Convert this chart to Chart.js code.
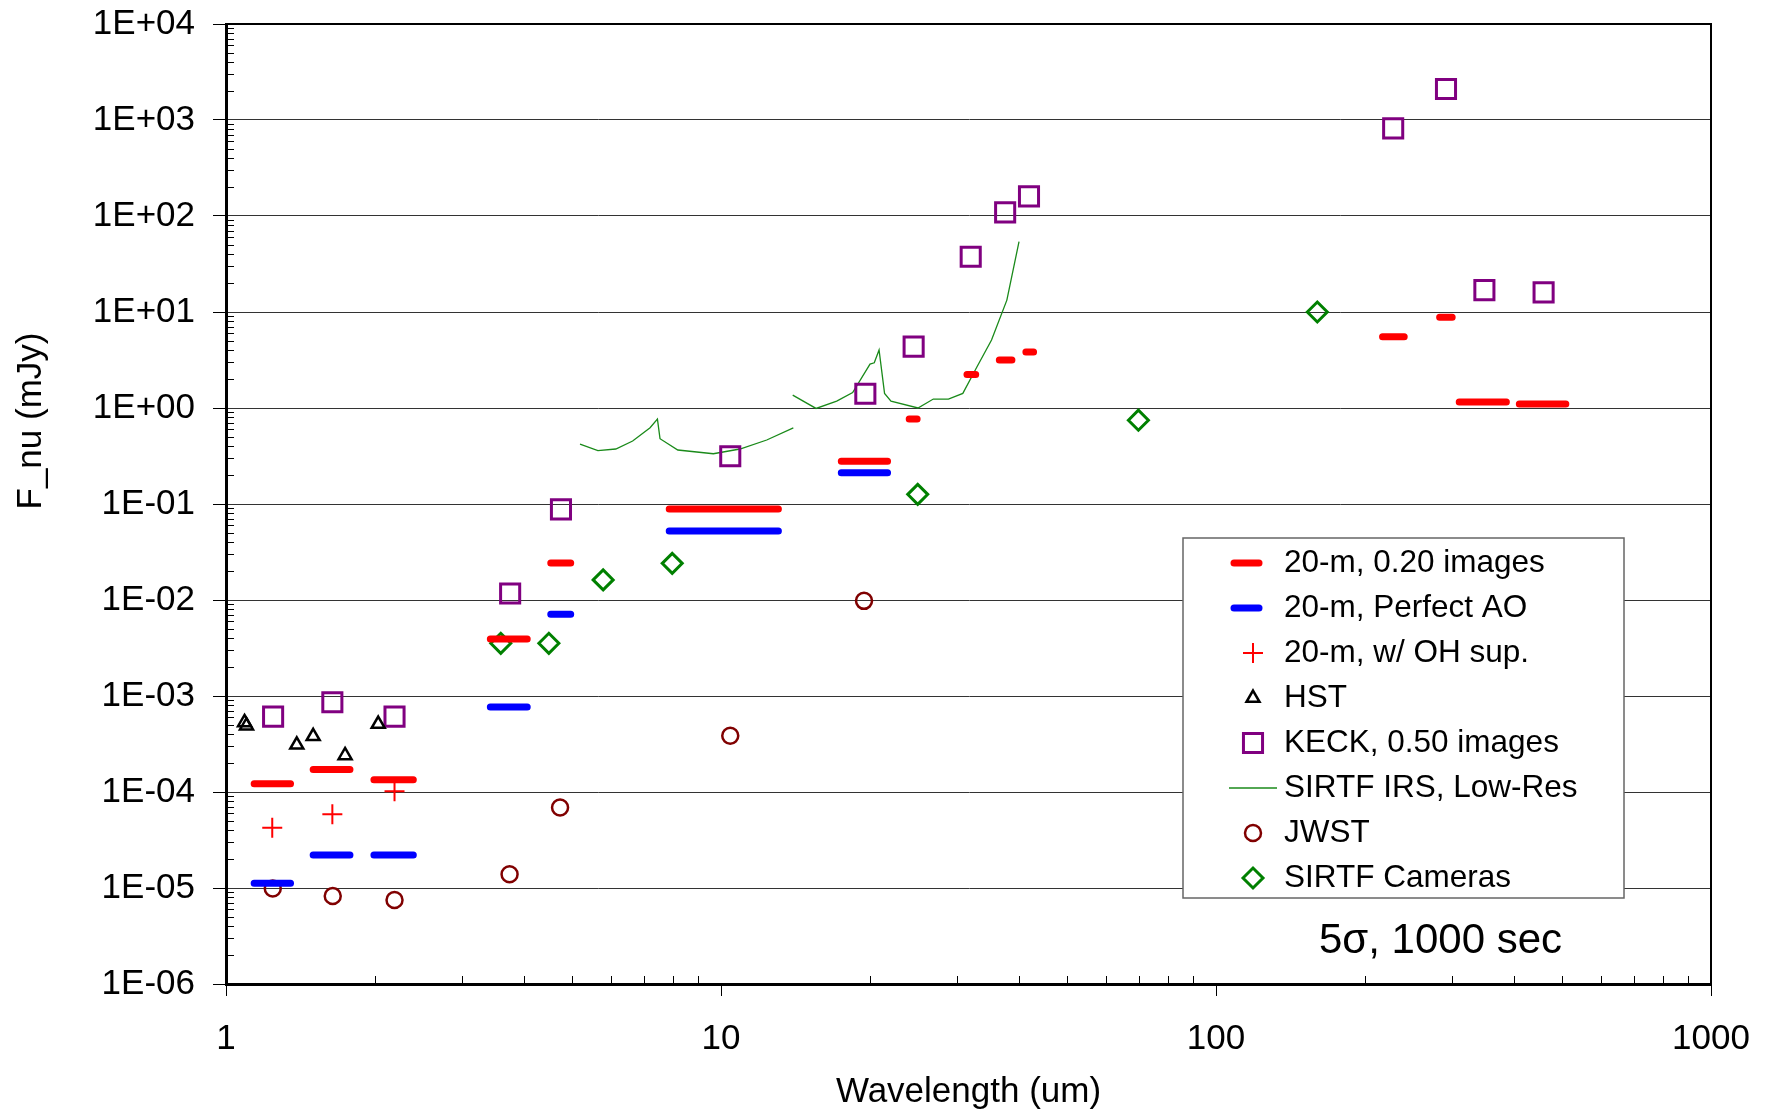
<!DOCTYPE html>
<html>
<head>
<meta charset="utf-8">
<script src="https://cdn.jsdelivr.net/npm/chart.js@4.4.1/dist/chart.umd.min.js"></script>
<style>
  html, body { margin: 0; padding: 0; background: #fff; }
  #wrap { width: 1771px; height: 1111px; }
</style>
</head>
<body>
<div id="wrap"><canvas id="chart"></canvas></div>
<script>
// 20-m telescope bands (um, left and right edge of each bar)
const bandLo = [1.14, 1.50, 1.99, 3.42, 4.53, 7.86, 17.5, 24.0, 31.4, 36.5, 41.3, 217, 283, 310, 410];
const bandHi = [1.35, 1.78, 2.39, 4.06, 4.97, 13.06, 21.7, 24.9, 32.7, 38.7, 42.8, 240, 300, 386, 509];
// 5 sigma, 1000 s limits in mJy
const images020 = [1.22e-4, 1.72e-4, 1.34e-4, 3.92e-3, 0.0243, 0.0888, 0.279, 0.767, 2.24, 3.16, 3.83, 5.53, 8.8, 1.155, 1.10];
const perfectAO = [1.12e-5, 2.21e-5, 2.21e-5, 7.67e-4, 7.1e-3, 0.0523, 0.212]; // first 7 bands only

const ohWave = [1.24, 1.64, 2.19];
const ohSup = [4.25e-5, 5.86e-5, 1.02e-4];

const hstWave = [1.09, 1.10, 1.39, 1.50, 1.74, 2.03];
const hst = [5.3e-4, 4.9e-4, 3.1e-4, 3.8e-4, 2.4e-4, 5.1e-4];

const keckWave = [1.245, 1.64, 2.19, 3.75, 4.75, 10.44, 19.57, 24.5, 31.95, 37.5, 41.9, 228, 291.5, 348.5, 459];
const keck = [6.1e-4, 8.6e-4, 6.1e-4, 0.0117, 0.088, 0.314, 1.41, 4.36, 37.7, 109, 160, 818, 2100, 16.9, 16.0];

const irsWaveShort = [5.19, 5.64, 6.13, 6.63, 7.19, 7.44, 7.53, 8.18, 9.65, 10.92, 12.37, 14.0];
const irsShort = [0.42, 0.359, 0.374, 0.453, 0.624, 0.767, 0.479, 0.365, 0.334, 0.374, 0.464, 0.62];
const irsWaveLong = [13.96, 15.56, 17.13, 18.45, 20.0, 20.4, 20.86, 21.4, 22.05, 25.0, 26.85, 28.8, 30.8, 32.9, 35.2, 37.8, 40.0];
const irsLong = [1.36, 0.99, 1.18, 1.45, 2.87, 2.96, 4.02, 1.42, 1.18, 1.0, 1.24, 1.24, 1.42, 2.69, 5.1, 13.3, 54];

const jwstWave = [1.243, 1.643, 2.19, 3.74, 4.73, 10.44, 19.45];
const jwst = [9.9e-6, 8.26e-6, 7.5e-6, 1.39e-5, 6.9e-5, 3.86e-4, 9.8e-3];

const camWave = [3.59, 4.49, 5.78, 7.97, 24.97, 69.7, 160.2];
const cameras = [3.54e-3, 3.54e-3, 0.0162, 0.0241, 0.126, 0.746, 10.0];

const FONT = "'Liberation Sans', Arial, sans-serif";

function pts(xs, ys) {
  return xs.map((x, i) => ({x: x, y: ys[i]}));
}
// horizontal bars as line pieces broken by gaps
function bars(vals) {
  const out = [];
  vals.forEach((v, i) => {
    out.push({x: bandLo[i], y: v}, {x: bandHi[i], y: v}, {x: bandHi[i], y: null});
  });
  return out;
}
function isDecade(v) {
  const l = Math.log10(v);
  return Math.abs(l - Math.round(l)) < 1e-9;
}
function sci(v) {
  const e = Math.round(Math.log10(v));
  return '1E' + (e < 0 ? '-' : '+') + String(Math.abs(e)).padStart(2, '0');
}

function marker(label, data, style, radius, color, width) {
  return {
    label: label, data: data,
    pointStyle: style, pointRadius: radius, pointHoverRadius: radius,
    pointBorderColor: color, pointBackgroundColor: 'rgba(0,0,0,0)',
    pointBorderWidth: width, showLine: false
  };
}
function barSet(label, data, color) {
  return {
    label: label, data: data, kind: 'bar',
    borderColor: color, borderWidth: 7, borderCapStyle: 'round',
    pointRadius: 0, showLine: true, spanGaps: false, fill: false
  };
}

const datasets = [
  barSet('20-m, 0.20 images', bars(images020), '#ff0000'),
  barSet('20-m, Perfect AO', bars(perfectAO), '#0000ff'),
  marker('20-m, w/ OH sup.', pts(ohWave, ohSup), 'cross', 10, '#ff0000', 2),
  marker('HST', pts(hstWave, hst), 'triangle', 7.5, '#000000', 2.5),
  marker('KECK, 0.50 images', pts(keckWave, keck), 'rect', 13.5, '#800080', 3),
  {
    label: 'SIRTF IRS, Low-Res',
    data: pts(irsWaveShort, irsShort).concat([{x: 14, y: null}], pts(irsWaveLong, irsLong)),
    borderColor: '#1a8a1a', borderWidth: 1.3, pointRadius: 0, showLine: true, spanGaps: false, fill: false
  },
  marker('JWST', pts(jwstWave, jwst), 'circle', 8, '#800000', 2.5),
  marker('SIRTF Cameras', pts(camWave, cameras), 'rectRot', 10, '#008000', 3)
];

const decor = {
  id: 'decor',
  beforeDatasetsDraw(chart) {
    const ctx = chart.ctx, a = chart.chartArea, x = chart.scales.x, y = chart.scales.y;
    ctx.save();
    ctx.strokeStyle = '#000';
    ctx.lineWidth = 1;
    ctx.beginPath();
    for (let n = -6; n < 4; n++) {
      for (let k = 2; k < 10; k++) {
        const py = Math.round(y.getPixelForValue(k * Math.pow(10, n))) + 0.5;
        ctx.moveTo(a.left, py); ctx.lineTo(a.left + 8, py);
      }
    }
    for (let n = 0; n < 3; n++) {
      for (let k = 2; k < 10; k++) {
        const px = Math.round(x.getPixelForValue(k * Math.pow(10, n))) + 0.5;
        ctx.moveTo(px, a.bottom); ctx.lineTo(px, a.bottom - 8);
      }
    }
    ctx.stroke();
    ctx.lineWidth = 2;
    ctx.strokeRect(a.left, a.top, a.right - a.left, a.bottom - a.top);
    ctx.restore();
  },
  afterDraw(chart) {
    const ctx = chart.ctx, a = chart.chartArea;
    ctx.save();
    // legend box
    const bx = 1183, by = 538, bw = 441, bh = 360;
    ctx.fillStyle = '#fff';
    ctx.fillRect(bx, by, bw, bh);
    ctx.strokeStyle = '#666';
    ctx.lineWidth = 1.5;
    ctx.strokeRect(bx, by, bw, bh);
    chart.data.datasets.forEach((ds, i) => {
      const cy = 563 + i * 45, cx = 1253;
      ctx.save();
      if (ds.kind === 'bar') {
        ctx.strokeStyle = ds.borderColor;
        ctx.lineWidth = 7;
        ctx.lineCap = 'round';
        ctx.beginPath(); ctx.moveTo(1234, cy); ctx.lineTo(1259, cy); ctx.stroke();
      } else if (ds.showLine) {
        ctx.strokeStyle = ds.borderColor;
        ctx.lineWidth = ds.borderWidth;
        ctx.beginPath(); ctx.moveTo(1229, cy); ctx.lineTo(1277, cy); ctx.stroke();
      } else {
        ctx.strokeStyle = ds.pointBorderColor;
        ctx.fillStyle = 'rgba(0,0,0,0)';
        ctx.lineWidth = ds.pointBorderWidth;
        Chart.helpers.drawPoint(ctx, {pointStyle: ds.pointStyle, radius: ds.pointRadius, rotation: 0, borderWidth: ds.pointBorderWidth}, cx, cy);
      }
      ctx.restore();
      ctx.fillStyle = '#000';
      ctx.font = '31.5px ' + FONT;
      ctx.textAlign = 'left';
      ctx.textBaseline = 'middle';
      ctx.fillText(ds.label, 1284, cy);
    });
    // note
    ctx.font = '42px ' + FONT;
    ctx.textBaseline = 'alphabetic';
    ctx.fillText('5\u03c3, 1000 sec', 1319, 953);
    // axis titles
    ctx.font = '35px ' + FONT;
    ctx.textAlign = 'center';
    ctx.fillText('Wavelength (um)', (a.left + a.right) / 2, 1102);
    ctx.translate(41, 421);
    ctx.rotate(-Math.PI / 2);
    ctx.fillText('F_nu (mJy)', 0, 0);
    ctx.restore();
  }
};

const chart = new Chart('chart', {
  type: 'scatter',
  data: {datasets: datasets},
  plugins: [decor],
  options: {
    responsive: true,
    maintainAspectRatio: false,
    animation: false,
    events: [],
    layout: {padding: {top: 24, right: 60, left: 0, bottom: 0}},
    plugins: {legend: {display: false}, tooltip: {enabled: false}},
    scales: {
      x: {
        type: 'logarithmic', min: 1, max: 1000, position: 'bottom',
        afterFit: s => { s.height = 127; s.paddingLeft = 0; s.paddingRight = 0; },
        border: {display: true, color: '#000', width: 3},
        grid: {
          drawOnChartArea: false, drawTicks: true, tickLength: 12, tickWidth: 1,
          tickColor: c => (c.tick && isDecade(c.tick.value)) ? '#000' : 'rgba(0,0,0,0)'
        },
        ticks: {
          autoSkip: false, maxRotation: 0, padding: 22, color: '#000',
          font: {family: FONT, size: 35},
          callback: v => isDecade(v) ? String(Math.round(v)) : ''
        }
      },
      y: {
        type: 'logarithmic', min: 1e-6, max: 1e4, position: 'left',
        afterFit: s => { s.width = 226; s.paddingTop = 0; s.paddingBottom = 0; },
        border: {display: true, color: '#000', width: 3},
        grid: {
          drawOnChartArea: true, drawTicks: true, tickLength: 13, lineWidth: 1, tickWidth: 1,
          color: c => (c.tick && isDecade(c.tick.value)) ? '#333' : 'rgba(0,0,0,0)',
          tickColor: c => (c.tick && isDecade(c.tick.value)) ? '#000' : 'rgba(0,0,0,0)'
        },
        ticks: {
          autoSkip: false, padding: 18, color: '#000',
          font: {family: FONT, size: 35},
          callback: v => isDecade(v) ? sci(v) : ''
        }
      }
    }
  }
});
</script>
</body>
</html>
